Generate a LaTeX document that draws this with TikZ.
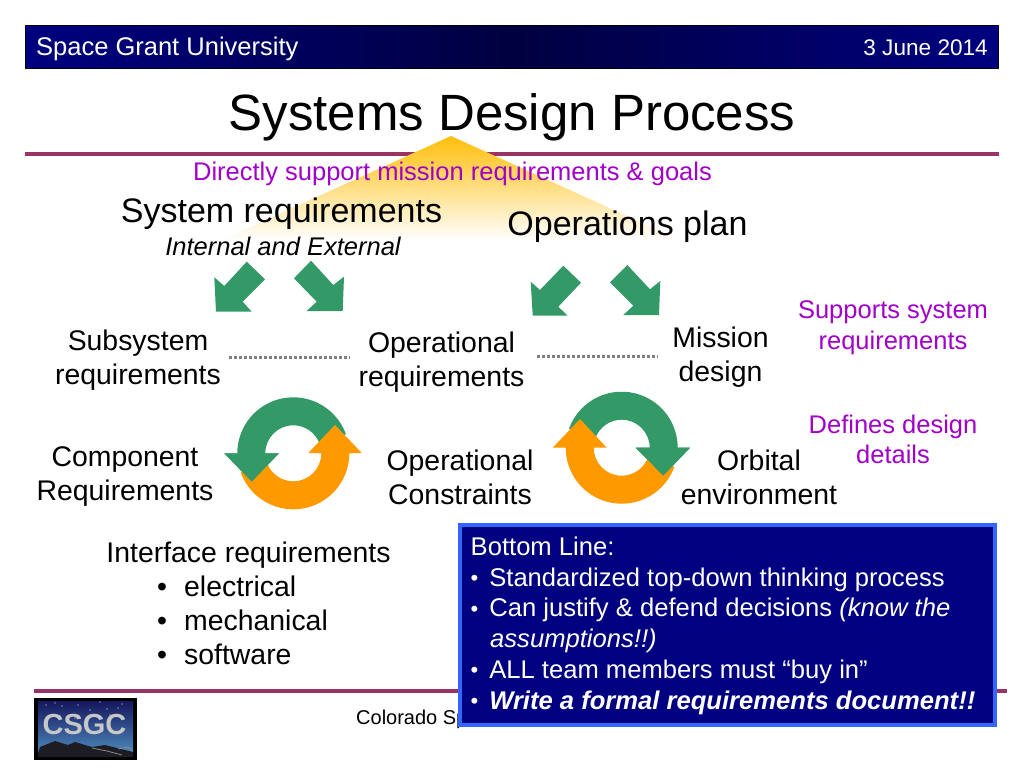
\documentclass[tikz,border=0pt]{standalone}
\usepackage{fontspec}
\usetikzlibrary{calc}
\setmainfont{Liberation Sans}
\definecolor{hdrnavy}{HTML}{000080}
\definecolor{hdrdark}{HTML}{000040}
\definecolor{rulecol}{HTML}{993366}
\definecolor{purp}{HTML}{A000C8}
\definecolor{grn}{HTML}{339966}
\definecolor{org}{HTML}{FF9900}
\definecolor{boxedge}{HTML}{3366FF}
\definecolor{dotcol}{HTML}{808080}
\definecolor{triyellow}{HTML}{FFBE0A}
\definecolor{skytop}{HTML}{16165E}
\definecolor{skylow}{HTML}{4A86B8}
\definecolor{hill}{HTML}{1C1C22}
\newcommand{\fs}[1]{\fontsize{#1}{#1}\selectfont}
\newcommand{\bul}{\makebox[18.6pt][l]{\fontsize{22}{22}\selectfont\raisebox{0.8pt}{•}}}
\tikzset{
  x=1pt,y=-1pt,
  bodytext/.style={align=center,inner sep=0pt,font=\fontsize{28.4}{34}\selectfont,text=black},
  purptext/.style={align=center,inner sep=0pt,font=\fontsize{25.5}{30.5}\selectfont,text=purp},
  listitem/.style={anchor=base west,inner sep=0pt,font=\fs{28.4},text=black},
  blockarrow/.style={fill=grn,draw=none},
  ringgreen/.style={fill=grn,draw=none},
  ringorange/.style={fill=org,draw=none},
  rulebar/.style={draw=rulecol,line width=4.2pt},
  dotline/.style={draw=dotcol,line width=3pt,dash pattern=on 3pt off 2pt},
}
\begin{document}
\begin{tikzpicture}
\useasboundingbox (0,0) rectangle (1024,768);
\fill[white] (0,0) rectangle (1024,768);
% header
\path[left color=hdrnavy,right color=hdrnavy,middle color=hdrdark,draw=black,line width=0.5pt] (25.3,25.3) rectangle (998.7,68.7);
\node[anchor=base west,inner sep=0pt,font=\fs{25.5},text=white] (hdrl) at (36,55.5) {Space Grant University};
\node[anchor=base east,inner sep=0pt,font=\fs{22.6},text=white] (hdrr) at (988,56) {3 June 2014};
% title
\node[anchor=base,inner sep=0pt,font=\fs{51}] (title) at (512,130) {Systems Design Process};
% rules
\draw[rulebar] (25,154) -- (999,154);
\draw[rulebar] (34,691) -- (1007,691);
% triangle
\path[top color=triyellow,bottom color=white,draw=none] (451,136) -- (680,240) -- (222,240) -- cycle;
% top texts
\node[purptext,anchor=base] (direct) at (452.5,180) {Directly support mission requirements \& goals};
\node[anchor=base,inner sep=0pt,font=\fs{34}] (sysreq) at (281.5,222) {System requirements};
\node[anchor=base,inner sep=0pt,font=\itshape\fs{25.5}] (intext) at (283,255) {Internal and External};
\node[anchor=base,inner sep=0pt,font=\fs{34}] (opsplan) at (627.5,235) {Operations plan};
% block arrows
\fill[blockarrow] (246.7,261.7) -- (265,279.3) -- (242.7,301.7) -- (251.7,311.7) -- (216,311.7) -- (214.3,277.3) -- (224.3,286) -- cycle;
\fill[blockarrow] (311,260.7) -- (294,278.3) -- (316.7,301.7) -- (306.7,311) -- (342.7,311) -- (344,276.7) -- (333.3,285) -- cycle;
\fill[blockarrow] (563.3,265.7) -- (581,282.7) -- (558.3,306.7) -- (567.7,315.7) -- (532.7,315.7) -- (530.7,281.7) -- (540,290) -- cycle;
\fill[blockarrow] (627.3,265) -- (610,282.3) -- (633.3,305.7) -- (623.3,315) -- (659,315) -- (660.3,281) -- (650,289.3) -- cycle;
% middle texts
\node[bodytext] (subsys) at (138,360) {Subsystem\\requirements};
\node[bodytext] (opreq) at (441.5,362) {Operational\\requirements};
\node[bodytext] (mission) at (720.5,357.5) {Mission\\design};
\node[purptext] (supports) at (893,327.5) {Supports system\\requirements};
\node[purptext] (defines) at (893,439.5) {Defines design\\details};
\node[bodytext] (comp) at (125,476.5) {Component\\Requirements};
\node[bodytext] (opcon) at (460,477.5) {Operational\\Constraints};
\node[bodytext] (orbit) at (759,477.5) {Orbital\\environment};
% dotted connectors
\coordinate (dota) at (229,357);
\coordinate (dotb) at (350,357);
\coordinate (dotc) at (537,356);
\coordinate (dotd) at (658,356);
\draw[dotline] (dota) -- (dotb);
\draw[dotline] (dotc) -- (dotd);
% left ring
\coordinate (lc) at (293.3,453.3);
\fill[ringgreen] ($(lc)+(-20:56)$) arc[start angle=-20,end angle=-180,radius=56] -- (224.3,453.3) -- (251.7,481.7) -- (279,453.3) -- ($(lc)+(-180:28)$) arc[start angle=-180,end angle=-20,radius=28] -- cycle;
\fill[ringorange] ($(lc)+(160:56)$) arc[start angle=160,end angle=0,radius=56] -- (361.7,453) -- (335,425) -- (308.3,453) -- ($(lc)+(0:28)$) arc[start angle=0,end angle=160,radius=28] -- cycle;
\fill[ringgreen] (224.3,453.3) -- (251.7,481.7) -- (279,453.3) -- cycle;
% right ring
\coordinate (rc) at (621.7,447.7);
\fill[ringgreen] ($(rc)+(-160:56)$) arc[start angle=-160,end angle=0,radius=56] -- (690,447.7) -- (663.3,475.7) -- (635.7,447.7) -- ($(rc)+(0:28)$) arc[start angle=0,end angle=-160,radius=28] -- cycle;
\fill[ringorange] ($(rc)+(20:56)$) arc[start angle=20,end angle=180,radius=56] -- (552.7,447.7) -- (580,419) -- (606.7,447.7) -- ($(rc)+(180:28)$) arc[start angle=180,end angle=20,radius=28] -- cycle;
\fill[ringgreen] (690,447.7) -- (663.3,475.7) -- (635.7,447.7) -- cycle;
% interface list
\node[anchor=base,inner sep=0pt,font=\fs{28.4}] (iface) at (248.5,562) {Interface requirements};
\node[listitem] (la) at (157,596) {•};
\node[listitem] (lb) at (157,630) {•};
\node[listitem] (lc2) at (157,664.5) {•};
\node[listitem] (la2) at (184,596) {electrical};
\node[listitem] (lb2) at (184,630) {mechanical};
\node[listitem] (lc3) at (184,664.5) {software};
% footer
\node[anchor=base west,inner sep=0pt,font=\fs{20}] (foot) at (356,724) {Colorado Sp};
% logo
\fill[black] (34,698) rectangle (137,760);
\path[top color=skytop,bottom color=skylow] (38,701) rectangle (133,752);
\fill[hill] (38,753) -- (40,747) -- (55,741) -- (68,745) -- (75,742) -- (92,747) -- (105,745) -- (133,752) -- (133,757) -- (38,757) -- cycle;
\draw[black!45,line width=0.8pt] (92,748) -- (107,751) -- (122,755);
\draw[black!45,line width=0.8pt] (118,749) -- (128,747) -- (133,750);
\foreach \sx/\sy in {46/705,55/703,62/706,78/705,100/702,122/704,90/710,107/709,118/708,60/716,75/718,110/715}{\fill[white] (\sx,\sy) circle (0.7);}
\node[inner sep=0pt,font=\bfseries\fs{29},text=black!22] (logo) at (84.5,725) {CSGC};
% bottom line box
\fill[hdrnavy,draw=boxedge,line width=4pt] (460,525) rectangle (995,725);
\node[anchor=north west,inner sep=0pt,align=left,text=white,font=\fontsize{25.6}{30.7}\selectfont] (bline) at (470.5,536.8) {Bottom Line:\\
\bul Standardized top-down thinking process\\
\bul Can justify \& defend decisions \textit{(know the}\\
\hspace{19.5pt}\textit{assumptions!!)}\\
\bul ALL team members must “buy in”\\
\bul\textbf{\textit{Write a formal requirements document!!}}};
\end{tikzpicture}
\end{document}
